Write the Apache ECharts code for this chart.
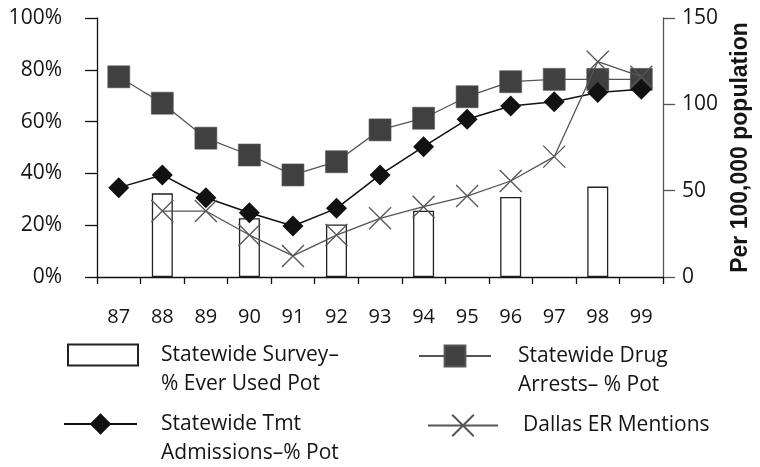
<!DOCTYPE html>
<html>
<head>
<meta charset="utf-8">
<script src="https://cdn.jsdelivr.net/npm/echarts@6/dist/echarts.min.js"></script>
<style>
  html, body { margin: 0; padding: 0; background: #fff; }
  #chart { width: 760px; height: 467px; }
</style>
</head>
<body>
<div id="chart"></div>
<script>
// Years shown along the bottom axis
const years = ['87', '88', '89', '90', '91', '92', '93', '94', '95', '96', '97', '98', '99'];

// Statewide survey: % ever used pot (surveyed every other year)
const surveyPct = [null, 32.3, null, 22.7, null, 20.3, null, 25.6, null, 30.9, null, 34.9, null];

// Statewide drug arrests: % pot
const arrestsPct = [77.3, 67.1, 53.6, 47.1, 39.4, 44.5, 56.8, 61.3, 69.6, 75.4, 76.3, 76.3, 76.3];

// Statewide treatment admissions: % pot
const admissionsPct = [34.5, 39.4, 30.6, 24.8, 19.7, 26.5, 39.4, 50.3, 60.9, 66.0, 67.7, 71.2, 72.5];

// Dallas ER mentions per 100,000 population
const erMentions = [null, 38.2, 38.2, 24.3, 12.2, 24.3, 34.0, 40.7, 46.9, 55.6, 69.7, 124.7, 116.0];

// Axis ranges
const pctTicks = { min: 0, max: 100, interval: 20 };
const rateTicks = { min: 0, max: 150, interval: 50 };

const labelFont = '"Open Sans", "Noto Sans", sans-serif';
const ink = '#151515';

const names = {
  survey: 'Statewide Survey–\n% Ever Used Pot',
  arrests: 'Statewide Drug\nArrests– % Pot',
  admissions: 'Statewide Tmt\nAdmissions–% Pot',
  er: 'Dallas ER Mentions'
};

const crossSymbol = 'path://M0,0L20,20M20,0L0,20';

// One legend box per entry. Two-line entries get a blank leading line so
// that the first line of text sits level with the icon.
function legendAt(name, left, top, w, h, padLeft, twoLines, icon) {
  const item = icon ? { name: name, icon: icon } : { name: name };
  return {
    data: [item],
    left: left,
    top: top,
    padding: 0,
    itemWidth: w,
    itemHeight: h,
    selectedMode: false,
    formatter: twoLines ? function (n) { return '\n' + n; } : '{name}',
    textStyle: {
      fontFamily: labelFont,
      fontSize: 21,
      lineHeight: 29,
      color: ink,
      padding: [0, 0, 0, padLeft]
    }
  };
}

const chart = echarts.init(document.getElementById('chart'), null, { renderer: 'canvas' });

chart.setOption({
  animation: false,
  backgroundColor: '#ffffff',
  grid: { left: 97, right: 86, top: 18, bottom: 190, containLabel: false },
  legend: [
    legendAt(names.survey, 67, 311.5, 70, 21, 18, true, 'rect'),
    legendAt(names.arrests, 418, 312.5, 72, 26, 22, true),
    legendAt(names.admissions, 63, 380.5, 73, 27, 19, true),
    legendAt(names.er, 427, 411, 70, 27, 20, false)
  ],
  xAxis: {
    type: 'category',
    data: years,
    boundaryGap: true,
    axisLine: { show: true, lineStyle: { color: '#111', width: 1.3 } },
    axisTick: { show: true, length: 7, lineStyle: { color: '#111', width: 1.3 } },
    axisLabel: { fontFamily: labelFont, fontSize: 20, color: ink, margin: 30, interval: 0 },
    splitLine: { show: false }
  },
  yAxis: [
    {
      type: 'value',
      position: 'left',
      min: pctTicks.min,
      max: pctTicks.max,
      interval: pctTicks.interval,
      axisLine: { show: true, lineStyle: { color: '#111', width: 1.3 } },
      axisTick: { show: true, length: 12, lineStyle: { color: '#111', width: 1.3 } },
      axisLabel: {
        fontFamily: labelFont, fontSize: 21, color: ink, margin: 35,
        formatter: '{value}%', padding: [4, 0, 0, 0]
      },
      splitLine: { show: false }
    },
    {
      type: 'value',
      position: 'right',
      min: rateTicks.min,
      max: rateTicks.max,
      interval: rateTicks.interval,
      name: 'Per 100,000 population',
      nameLocation: 'middle',
      nameRotate: 90,
      nameGap: 57,
      nameTextStyle: {
        fontFamily: '"Liberation Sans", Arial, sans-serif',
        fontWeight: 'bold',
        fontSize: 23,
        color: ink
      },
      axisLine: { show: true, lineStyle: { color: '#555', width: 1.3 } },
      axisTick: { show: true, length: 12, lineStyle: { color: '#555', width: 1.3 } },
      axisLabel: {
        fontFamily: labelFont, fontSize: 21, color: ink, margin: 19,
        padding: [4, 0, 0, 0]
      },
      splitLine: { show: false }
    }
  ],
  series: [
    {
      name: names.survey,
      type: 'bar',
      yAxisIndex: 0,
      data: surveyPct,
      barWidth: 21,
      itemStyle: { color: '#ffffff', borderColor: '#222', borderWidth: 1.3 },
      z: 1
    },
    {
      name: names.arrests,
      type: 'line',
      yAxisIndex: 0,
      data: arrestsPct,
      symbol: 'rect',
      symbolSize: 22,
      showAllSymbol: true,
      lineStyle: { color: '#555', width: 1.3 },
      itemStyle: { color: '#404040', borderColor: '#555', borderWidth: 0.6 },
      z: 2
    },
    {
      name: names.admissions,
      type: 'line',
      yAxisIndex: 0,
      data: admissionsPct,
      symbol: 'diamond',
      symbolSize: 21,
      showAllSymbol: true,
      lineStyle: { color: '#111', width: 1.5 },
      itemStyle: { color: '#111' },
      z: 3
    },
    {
      name: names.er,
      type: 'line',
      yAxisIndex: 1,
      data: erMentions,
      symbol: crossSymbol,
      symbolSize: 22,
      showAllSymbol: true,
      connectNulls: false,
      lineStyle: { color: '#555', width: 1.3 },
      itemStyle: { color: '#555', borderColor: '#555', borderWidth: 1.3 },
      z: 4
    }
  ]
});
</script>
</body>
</html>
